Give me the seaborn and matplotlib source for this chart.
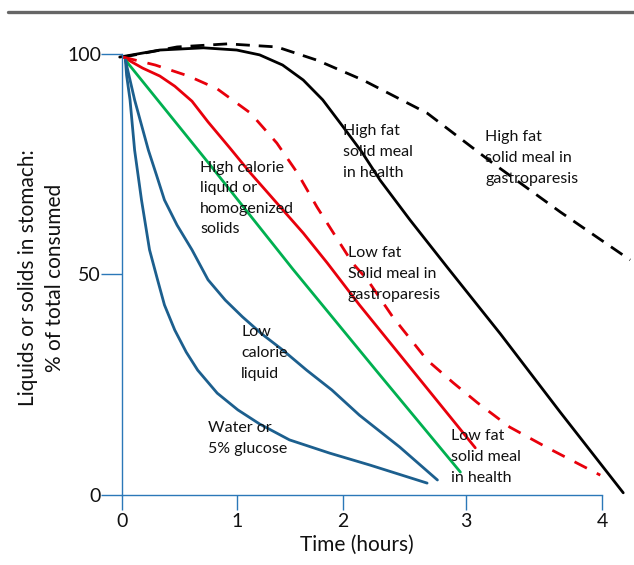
import numpy as np
import pandas as pd
import seaborn as sns
import matplotlib
matplotlib.use("Agg")
import matplotlib.pyplot as plt
from matplotlib.lines import Line2D

# ---- data (time in hours, % of meal remaining in stomach) ----
hf_health_t = [-0.02, 0.33, 0.71, 1.00, 1.20, 1.40, 1.58, 1.75, 1.93, 2.09, 2.25, 2.51, 2.84, 3.30, 3.82, 4.37]
hf_health_v = [99.3, 100.9, 101.4, 100.9, 99.8, 97.5, 94.1, 89.6, 83.4, 77.8, 71.4, 62.4, 51.5, 36.5, 18.8, 0.5]

hf_gastro_t = [0.01, 0.48, 0.92, 1.35, 1.70, 2.10, 2.66, 3.23, 3.82, 4.43]
hf_gastro_v = [99.3, 101.6, 102.3, 101.6, 98.6, 94.1, 86.6, 75.3, 64.2, 53.3]

lf_health_t = [0.01, 0.18, 0.33, 0.46, 0.61, 0.75, 0.94, 1.12, 1.35, 1.58, 1.79, 2.07, 2.60, 3.08]
lf_health_v = [99.3, 96.8, 95.0, 92.7, 89.3, 84.6, 78.7, 73.0, 66.2, 59.4, 52.6, 43.1, 26.1, 10.7]

lf_gastro_t = [0.01, 0.29, 0.58, 0.83, 1.12, 1.35, 1.53, 1.70, 1.90, 2.01, 2.14, 2.36, 2.66, 2.89, 3.10, 3.38, 3.71, 4.17]
lf_gastro_v = [99.3, 97.5, 95.0, 92.1, 86.6, 79.8, 73.0, 65.3, 57.1, 52.6, 48.8, 40.4, 30.6, 25.4, 20.9, 15.4, 10.7, 4.5]

hi_cal_t = [0.03, 0.76, 1.49, 2.22, 2.95]
hi_cal_v = [98.6, 75.1, 51.2, 28.1, 5.2]

lo_cal_t = [0.03, 0.07, 0.11, 0.17, 0.23, 0.30, 0.37, 0.48, 0.61, 0.75, 0.90, 1.05, 1.22, 1.40, 1.61, 1.83, 2.07, 2.42, 2.75]
lo_cal_v = [98.6, 94.1, 89.6, 83.9, 78.2, 72.6, 66.9, 61.2, 55.6, 48.8, 44.2, 40.4, 36.5, 32.9, 28.3, 23.8, 18.1, 10.9, 3.4]

water_t = [0.03, 0.04, 0.07, 0.11, 0.17, 0.24, 0.31, 0.37, 0.46, 0.56, 0.66, 0.83, 1.01, 1.20, 1.46, 1.81, 2.16, 2.66]
water_v = [98.6, 95.2, 89.6, 78.2, 66.9, 55.6, 48.8, 43.1, 37.4, 32.4, 28.3, 23.1, 19.3, 16.1, 12.5, 9.5, 6.8, 2.7]

x_tick_labels = ["0", "1", "2", "3", "4"]
y_tick_values = [0, 50, 100]

labels = [
    "High fat\nsolid meal\nin health",
    "High fat\nsolid meal in\ngastroparesis",
    "High calorie\nliquid or\nhomogenized\nsolids",
    "Low fat\nSolid meal in\ngastroparesis",
    "Low\ncalorie\nliquid",
    "Water or\n5% glucose",
    "Low fat\nsolid meal\nin health",
]

# ---- style ----
sns.set_theme(style="white")
plt.rcParams["font.family"] = ["Lato", "DejaVu Sans"]

W, H = 634, 565
fig = plt.figure(figsize=(W / 100, H / 100), dpi=100)
px_per_h = 114.7
px_per_pct = 4.41
x0, y0 = 122, 495
xmax, ymax = 4.45, 105
ax_w = xmax * px_per_h
ax_h = ymax * px_per_pct
ax = fig.add_axes([x0 / W, (H - y0) / H, ax_w / W, ax_h / H])

BLUE_AX = "#2b78b8"
BLACK = "#000000"
RED = "#e8000b"
GREEN = "#00b050"
BLUE = "#1c5f8e"
LW = 2.0

series = [
    (hf_health_t, hf_health_v, BLACK, "-"),
    (hf_gastro_t, hf_gastro_v, BLACK, (0, (5, 3.2))),
    (lf_health_t, lf_health_v, RED, "-"),
    (lf_gastro_t, lf_gastro_v, RED, (0, (5, 4))),
    (hi_cal_t, hi_cal_v, GREEN, "-"),
    (lo_cal_t, lo_cal_v, BLUE, "-"),
    (water_t, water_v, BLUE, "-"),
]
for t, v, c, ls in series:
    df = pd.DataFrame({"t": t, "v": v})
    sns.lineplot(data=df, x="t", y="v", sort=False, estimator=None, color=c,
                 linewidth=LW, linestyle=ls, ax=ax, clip_on=False)

ax.set_xlim(0, xmax)
ax.set_ylim(0, ymax)

for s in ["top", "right"]:
    ax.spines[s].set_visible(False)
for s in ["left", "bottom"]:
    ax.spines[s].set_color(BLUE_AX)
    ax.spines[s].set_linewidth(1.0)
ax.spines["left"].set_bounds(0, 100)
ax.spines["bottom"].set_bounds(0, 4.185)

ax.set_xticks([0, 1.003, 1.927, 3.0, 4.185])
ax.set_xticklabels(x_tick_labels)
ax.set_yticks(y_tick_values)
ax.set_yticklabels([str(v) for v in y_tick_values])
ax.tick_params(axis="x", direction="out", length=11, width=1.0, color=BLUE_AX,
               labelsize=14, pad=2, labelcolor="#111111", bottom=True)
ax.tick_params(axis="y", direction="out", length=15, width=1.0, color=BLUE_AX,
               labelsize=14, pad=0, labelcolor="#111111", left=True)

ax.set_xlabel("Time (hours)", fontsize=15, color="#111111", va="center")
ax.xaxis.set_label_coords((357 - x0) / ax_w, (y0 - 545) / ax_h)
ax.set_ylabel("Liquids or solids in stomach:\n% of total consumed", fontsize=15,
              color="#111111", linespacing=1.45, va="center")
ax.yaxis.set_label_coords((41.5 - x0) / ax_w, (y0 - 278) / ax_h)

# annotations (left x px, block center y px)
pos = [(343, 152), (485, 158), (200, 198.5), (348, 274), (241, 353), (208, 438.5), (451, 457)]
for txt, (px, py) in zip(labels, pos):
    fig.text(px / W, 1 - py / H, txt, fontsize=11.5, ha="left", va="center",
             color="#111111", linespacing=1.6)

# grey rule at top
fig.add_artist(Line2D([8 / W, 1.0], [1 - 11.5 / H, 1 - 11.5 / H], transform=fig.transFigure,
                      color="#666666", linewidth=2.4))

fig.savefig("out.png", dpi=100)
